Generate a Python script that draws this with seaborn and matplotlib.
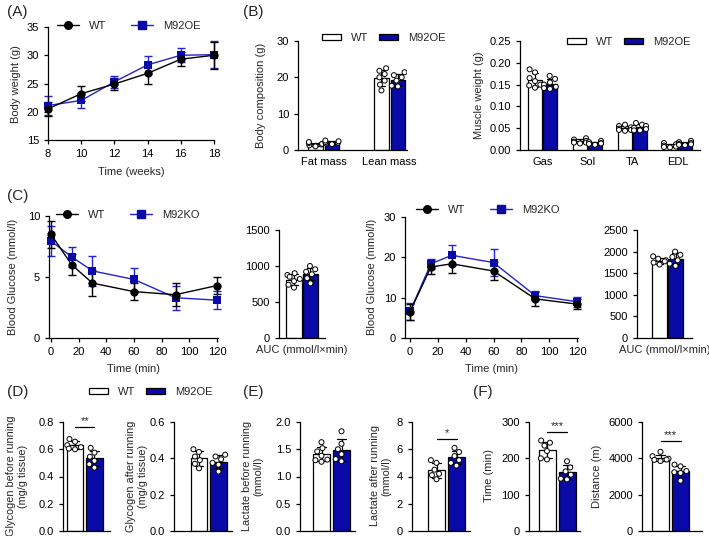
import warnings
import numpy as np
import pandas as pd
import matplotlib
matplotlib.use("Agg")
import matplotlib.pyplot as plt
import seaborn as sns
from matplotlib.patches import Patch
from matplotlib.lines import Line2D
from matplotlib.ticker import FormatStrFormatter

warnings.filterwarnings("ignore")

#----------------------------------
# Data
#----------------------------------
# (A) body weight
weeks = [8, 10, 12, 14, 16, 18]
bw_wt = [20.5, 23.2, 24.9, 26.8, 29.3, 30.0]
bw_wt_sd = [1.3, 1.3, 1.0, 1.9, 1.2, 2.4]
bw_oe = [21.1, 22.0, 25.3, 28.3, 30.0, 30.1]
bw_oe_sd = [1.6, 1.4, 1.1, 1.6, 1.2, 2.4]

# (B) body composition
comp_cats = ["Fat mass", "Lean mass"]
fat_wt = [1.0, 1.3, 1.5, 1.7, 1.9, 2.2]
fat_oe = [1.6, 1.8, 2.0, 2.2, 2.4, 2.6]
lean_wt = [22.5, 21.8, 20.9, 20.0, 19.1, 18.0, 16.4]
lean_oe = [21.4, 20.6, 20.0, 19.1, 17.7, 17.5]

# (B) muscle weight
muscle_cats = ["Gas", "Sol", "TA", "EDL"]
gas_wt = [0.185, 0.178, 0.165, 0.158, 0.150, 0.143, 0.148]
gas_oe = [0.170, 0.163, 0.155, 0.150, 0.145, 0.140, 0.142]
sol_wt = [0.027, 0.024, 0.021, 0.019, 0.017, 0.015, 0.017]
sol_oe = [0.021, 0.018, 0.016, 0.015, 0.014, 0.012]
ta_wt = [0.058, 0.055, 0.052, 0.049, 0.046, 0.044, 0.046]
ta_oe = [0.062, 0.058, 0.055, 0.051, 0.048, 0.045, 0.045]
edl_wt = [0.016, 0.013, 0.010, 0.008, 0.007, 0.006]
edl_oe = [0.021, 0.018, 0.016, 0.014, 0.012, 0.011, 0.013]

# (C) ITT / GTT
minutes = [0, 15, 30, 60, 90, 120]
itt_wt = [8.5, 6.0, 4.5, 3.8, 3.55, 4.3]
itt_wt_sd = [1.1, 0.85, 1.05, 0.7, 0.95, 0.7]
itt_ko = [7.95, 6.65, 5.5, 4.8, 3.3, 3.1]
itt_ko_sd = [1.2, 0.8, 1.2, 0.95, 1.0, 0.75]
itt_auc_wt = [900, 875, 850, 820, 790, 740, 700]
itt_auc_ko = [1000, 955, 920, 885, 830, 760]

gtt_wt = [6.5, 17.6, 18.4, 16.6, 9.7, 8.4]
gtt_wt_sd = [2.0, 1.8, 2.2, 2.3, 1.7, 1.2]
gtt_ko = [6.6, 18.4, 20.5, 18.7, 10.5, 9.0]
gtt_ko_sd = [2.2, 1.3, 2.5, 3.3, 1.2, 1.2]
gtt_auc_wt = [1890, 1835, 1800, 1775, 1745, 1700]
gtt_auc_ko = [2000, 1925, 1875, 1800, 1720, 1670]

# (D) glycogen
gly_before_wt = [0.675, 0.655, 0.630, 0.615, 0.600, 0.605]
gly_before_oe = [0.610, 0.575, 0.545, 0.515, 0.490, 0.465]
gly_after_wt = [0.450, 0.435, 0.410, 0.390, 0.370, 0.345]
gly_after_oe = [0.420, 0.410, 0.395, 0.375, 0.365, 0.327]

# (E) lactate
lac_before_wt = [1.63, 1.52, 1.46, 1.38, 1.30, 1.27, 1.31]
lac_before_oe = [1.83, 1.60, 1.50, 1.41, 1.32, 1.28]
lac_after_wt = [5.2, 5.0, 4.5, 4.1, 3.8, 4.2]
lac_after_oe = [6.1, 5.8, 5.5, 5.2, 4.8, 5.0]

# (F) running
run_time_wt = [249, 243, 235, 220, 200, 197]
run_time_oe = [192, 175, 164, 155, 144, 142]
run_dist_wt = [4357, 4117, 3980, 3932, 3850, 3914]
run_dist_oe = [3655, 3560, 3300, 3192, 2768, 3235]

#----------------------------------
# Style
#----------------------------------
sns.set_style("ticks")
plt.rcParams['font.family'] = ['Liberation Sans', 'DejaVu Sans']
plt.rcParams['font.size'] = 8
plt.rcParams['axes.linewidth'] = 0.9
plt.rcParams['xtick.major.width'] = 0.9
plt.rcParams['ytick.major.width'] = 0.9
plt.rcParams['xtick.major.size'] = 3
plt.rcParams['ytick.major.size'] = 3
plt.rcParams['xtick.labelsize'] = 8
plt.rcParams['ytick.labelsize'] = 8
plt.rcParams['xtick.color'] = 'black'
plt.rcParams['ytick.color'] = 'black'
plt.rcParams['axes.edgecolor'] = 'black'

BLUE = '#0a0aa8'
BLUE_LINE = '#2323d2'
W, H = 709, 536

fig = plt.figure(figsize=(W / 100, H / 100), dpi=100)


def add_ax(l, t, r, b):
    ax = fig.add_axes([l / W, 1 - b / H, (r - l) / W, (b - t) / H])
    sns.despine(ax=ax)
    return ax


def ylab(text, x, y, size=8):
    fig.text(x / W, 1 - y / H, text, rotation=90, ha='center', va='center',
             fontsize=size, linespacing=1.2)


def panel_label(text, x, y):
    fig.text(x / W, 1 - y / H, text, ha='left', va='center', fontsize=11)


def line_legend(names, cx, cy):
    handles = [Line2D([0], [0], color='black', marker='o', markersize=5.5, lw=1),
               Line2D([0], [0], color=BLUE_LINE, marker='s', markersize=5.5, lw=1,
                      markerfacecolor=BLUE, markeredgecolor=BLUE)]
    fig.legend(handles, names, loc='center', bbox_to_anchor=(cx / W, 1 - cy / H),
               ncol=2, frameon=False, handlelength=2.0, columnspacing=2.2,
               handletextpad=0.9, fontsize=8)


def bar_legend(names, cx, cy):
    handles = [Patch(facecolor='white', edgecolor='black', linewidth=0.9),
               Patch(facecolor=BLUE, edgecolor='black', linewidth=0.9)]
    fig.legend(handles, names, loc='center', bbox_to_anchor=(cx / W, 1 - cy / H),
               ncol=2, frameon=False, handlelength=1.7, handleheight=0.45,
               columnspacing=1.0, handletextpad=0.9, fontsize=8)


def line_panel(ax, x, m1, s1, m2, s2, names):
    df = pd.DataFrame({'x': list(x) * 2,
                       'y': list(m1) + list(m2),
                       'group': [names[0]] * len(x) + [names[1]] * len(x)})
    ax.errorbar(x, m2, yerr=s2, fmt='none', ecolor=BLUE_LINE, capsize=3,
                elinewidth=1, capthick=1, clip_on=False, zorder=2)
    ax.errorbar(x, m1, yerr=s1, fmt='none', ecolor='black', capsize=3,
                elinewidth=1, capthick=1, clip_on=False, zorder=2)
    sns.lineplot(data=df, x='x', y='y', hue='group', style='group',
                 hue_order=[names[1], names[0]], style_order=[names[1], names[0]],
                 markers={names[0]: 'o', names[1]: 's'}, dashes=False,
                 palette={names[0]: 'black', names[1]: BLUE_LINE},
                 markersize=6, markeredgewidth=0, linewidth=1,
                 legend=False, ax=ax, clip_on=False, zorder=3)
    # blue squares a bit darker than the line
    for ln in ax.lines:
        if ln.get_color() == BLUE_LINE:
            ln.set_markerfacecolor(BLUE)
    ax.set_xlabel('')
    ax.set_ylabel('')


def bar_panel(ax, wt, oe, names, width=0.85):
    df = pd.DataFrame({'group': [names[0]] * len(wt) + [names[1]] * len(oe),
                       'value': list(wt) + list(oe)})
    sns.barplot(data=df, x='group', y='value', hue='group', order=names,
                hue_order=names, palette={names[0]: 'white', names[1]: BLUE},
                saturation=1, errorbar='sd', capsize=0.45, width=width,
                err_kws={'color': 'black', 'linewidth': 0.9},
                edgecolor='black', linewidth=0.9, legend=False, ax=ax)
    sns.swarmplot(data=df, x='group', y='value', hue='group', order=names,
                  hue_order=names, palette={names[0]: 'white', names[1]: 'white'},
                  edgecolor='black', linewidth=0.7, size=3.6, legend=False,
                  warn_thresh=1, ax=ax, zorder=3)
    ax.set_xticks([])
    ax.set_xlabel('')
    ax.set_ylabel('')


def grouped_panel(ax, cats, groups, spacer, width=0.9):
    # groups: dict cat -> (wt list, oe list); categories laid out as WT,OE pairs
    order = []
    rows = []
    for i, c in enumerate(cats):
        order += [c + '|WT', c + '|M92OE']
        if i < len(cats) - 1:
            order += [' ' * (i * spacer + k + 1) for k in range(spacer)]
        wt, oe = groups[c]
        rows += [(c + '|WT', 'WT', v) for v in wt]
        rows += [(c + '|M92OE', 'M92OE', v) for v in oe]
    df = pd.DataFrame(rows, columns=['combo', 'group', 'value'])
    sns.barplot(data=df, x='combo', y='value', hue='group', order=order,
                hue_order=['WT', 'M92OE'], palette={'WT': 'white', 'M92OE': BLUE},
                saturation=1, errorbar='sd', capsize=0.45, width=width,
                err_kws={'color': 'black', 'linewidth': 0.9},
                edgecolor='black', linewidth=0.9, legend=False, ax=ax)
    sns.swarmplot(data=df, x='combo', y='value', hue='group', order=order,
                  hue_order=['WT', 'M92OE'], palette={'WT': 'white', 'M92OE': 'white'},
                  edgecolor='black', linewidth=0.7, size=3.6, legend=False,
                  warn_thresh=1, ax=ax, zorder=3)
    centers = [order.index(c + '|WT') + 0.5 for c in cats]
    ax.set_xticks(centers)
    ax.set_xticklabels(cats)
    ax.tick_params(axis='x', length=0, pad=5)
    ax.set_xlabel('')
    ax.set_ylabel('')


def sig(ax, y, text, dy):
    ax.plot([0, 1], [y, y], color='black', lw=0.9)
    ax.text(0.5, y + dy, text, ha='center', va='bottom', fontsize=8)


#----------------------------------
# (A) Body weight
#----------------------------------
axA = add_ax(48, 27, 214, 140)
line_panel(axA, weeks, bw_wt, bw_wt_sd, bw_oe, bw_oe_sd, ['WT', 'M92OE'])
axA.set_xlim(8, 18)
axA.set_ylim(15, 35)
axA.set_xticks(range(8, 19, 2))
axA.set_yticks(range(15, 36, 5))
axA.set_xlabel('Time (weeks)', labelpad=6)
ylab('Body weight (g)', 16, 84)
line_legend(['WT', 'M92OE'], 129, 26)
panel_label('(A)', 7, 12)

#----------------------------------
# (B) Body composition & muscle weight
#----------------------------------
axB1 = add_ax(298, 41, 407, 150)
grouped_panel(axB1, comp_cats,
              {'Fat mass': (fat_wt, fat_oe), 'Lean mass': (lean_wt, lean_oe)},
              spacer=2, width=0.88)
axB1.set_xlim(-1.06, 5.55)
axB1.set_ylim(0, 30)
axB1.set_yticks([0, 10, 20, 30])
ylab('Body composition (g)', 261, 95)
bar_legend(['WT', 'M92OE'], 384, 38)
panel_label('(B)', 243, 12)

axB2 = add_ax(520, 41, 700, 150)
grouped_panel(axB2, muscle_cats,
              {'Gas': (gas_wt, gas_oe), 'Sol': (sol_wt, sol_oe),
               'TA': (ta_wt, ta_oe), 'EDL': (edl_wt, edl_oe)},
              spacer=1, width=0.92)
axB2.set_xlim(-1.0, 11.0)
axB2.set_ylim(0, 0.25)
axB2.set_yticks(np.arange(0, 0.26, 0.05))
axB2.yaxis.set_major_formatter(FormatStrFormatter('%.2f'))
ylab('Muscle weight (g)', 479, 95)
bar_legend(['WT', 'M92OE'], 629, 42)

#----------------------------------
# (C) ITT and GTT
#----------------------------------
axC1 = add_ax(49, 216, 218, 338)
line_panel(axC1, minutes, itt_wt, itt_wt_sd, itt_ko, itt_ko_sd, ['WT', 'M92KO'])
axC1.set_xlim(-1.4, 120.7)
axC1.set_ylim(0, 10)
axC1.set_xticks(range(0, 121, 20))
axC1.set_yticks([0, 5, 10])
axC1.set_xlabel('Time (min)', labelpad=5)
ylab('Blood Glucose (mmol/l)', 13, 277)
line_legend(['WT', 'M92KO'], 128, 215)
panel_label('(C)', 7, 196)

axC2 = add_ax(279, 230, 325, 338)
bar_panel(axC2, itt_auc_wt, itt_auc_ko, ['WT', 'M92KO'], width=0.92)
axC2.set_xlim(-0.91, 1.88)
axC2.set_ylim(0, 1500)
axC2.set_yticks([0, 500, 1000, 1500])
axC2.set_xlabel('AUC (mmol/l\u00d7min)', labelpad=5)

axC3 = add_ax(405, 217, 578, 338)
line_panel(axC3, minutes, gtt_wt, gtt_wt_sd, gtt_ko, gtt_ko_sd, ['WT', 'M92KO'])
axC3.set_xlim(-3.6, 120.7)
axC3.set_ylim(0, 30)
axC3.set_xticks(range(0, 121, 20))
axC3.set_yticks([0, 10, 20, 30])
axC3.set_xlabel('Time (min)', labelpad=5)
ylab('Blood Glucose (mmol/l)', 372, 277)
line_legend(['WT', 'M92KO'], 488, 210)

axC4 = add_ax(637, 230, 692, 338)
bar_panel(axC4, gtt_auc_wt, gtt_auc_ko, ['WT', 'M92KO'], width=0.92)
axC4.set_xlim(-1.41, 2.03)
axC4.set_ylim(0, 2500)
axC4.set_yticks(range(0, 2501, 500))
axC4.set_xlabel('AUC (mmol/l\u00d7min)', labelpad=5)

#----------------------------------
# (D) Glycogen
#----------------------------------
names = ['WT', 'M92OE']
axD1 = add_ax(63, 422, 110, 531)
bar_panel(axD1, gly_before_wt, gly_before_oe, names)
axD1.set_xlim(-0.62, 1.8)
axD1.set_ylim(0, 0.8)
axD1.set_yticks(np.arange(0, 0.81, 0.2))
axD1.yaxis.set_major_formatter(FormatStrFormatter('%.1f'))
sig(axD1, 0.764, '**', 0.005)
ylab('Glycogen before running\n(mg/g tissue)', 17, 476, 7.8)
bar_legend(names, 151, 392)
panel_label('(D)', 7, 392)

axD2 = add_ax(174, 422, 232, 531)
bar_panel(axD2, gly_after_wt, gly_after_oe, names)
axD2.set_xlim(-1.28, 1.69)
axD2.set_ylim(0, 0.6)
axD2.set_yticks(np.arange(0, 0.61, 0.2))
axD2.yaxis.set_major_formatter(FormatStrFormatter('%.1f'))
ylab('Glycogen after running\n(mg/g tissue)', 137, 476, 7.8)

#----------------------------------
# (E) Lactate
#----------------------------------
axE1 = add_ax(300, 422, 355, 531)
bar_panel(axE1, lac_before_wt, lac_before_oe, names)
axE1.set_xlim(-1.075, 1.675)
axE1.set_ylim(0, 2.0)
axE1.set_yticks(np.arange(0, 2.01, 0.5))
axE1.yaxis.set_major_formatter(FormatStrFormatter('%.1f'))
ylab('Lactate before running\n(mmol/l)', 253, 476, 7.8)
panel_label('(E)', 243, 392)

axE2 = add_ax(412, 422, 470, 531)
bar_panel(axE2, lac_after_wt, lac_after_oe, names)
axE2.set_xlim(-1.225, 1.675)
axE2.set_ylim(0, 8)
axE2.set_yticks(range(0, 9, 2))
sig(axE2, 6.76, '*', 0.05)
ylab('Lactate after running\n(mmol/l)', 381, 476, 7.8)

#----------------------------------
# (F) Running capacity
#----------------------------------
axF1 = add_ax(529, 422, 580, 531)
bar_panel(axF1, run_time_wt, run_time_oe, names)
axF1.set_xlim(-0.9, 1.65)
axF1.set_ylim(0, 300)
axF1.set_yticks(range(0, 301, 100))
sig(axF1, 272, '***', 2)
ylab('Time (min)', 489, 476)
panel_label('(F)', 473, 392)

axF2 = add_ax(642, 422, 702, 531)
bar_panel(axF2, run_dist_wt, run_dist_oe, names)
axF2.set_xlim(-0.925, 2.075)
axF2.set_ylim(0, 6000)
axF2.set_yticks(range(0, 6001, 2000))
sig(axF2, 4954, '***', 40)
ylab('Distance (m)', 597, 476)

fig.savefig('out.png', dpi=100, facecolor='white')
